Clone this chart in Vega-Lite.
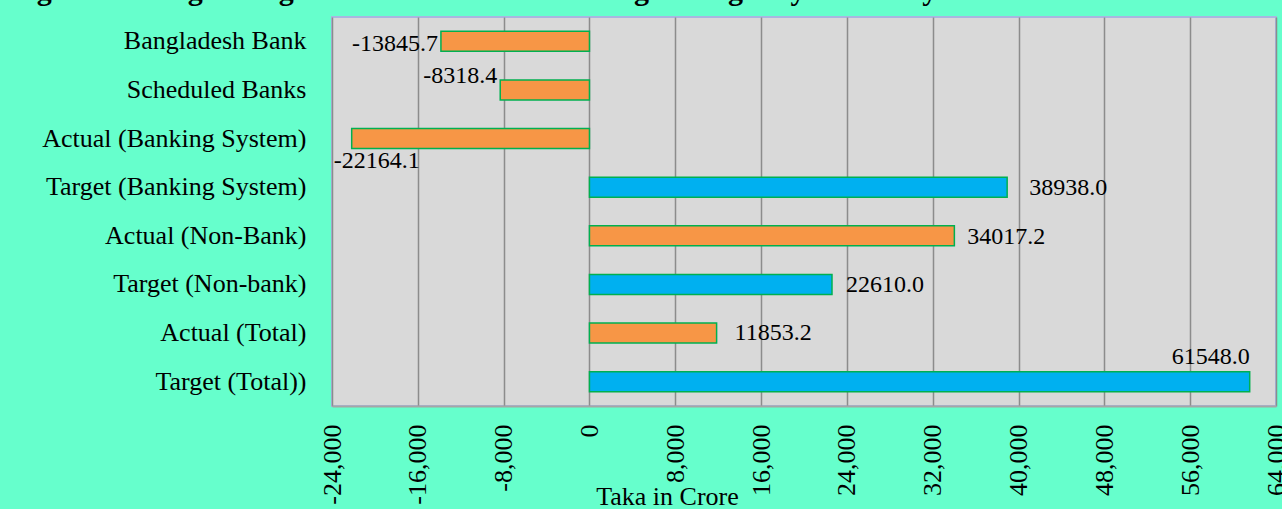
{
  "$schema": "https://vega.github.io/schema/vega-lite/v6.json",
  "width": 944,
  "height": 389,
  "autosize": {"type": "none"},
  "padding": {"left": 332, "top": 17, "right": 6, "bottom": 103},
  "background": "#66FFCC",
  "title": {
    "text": "Figure 4: Budget Target and Net Govt. Borrowing during July-February",
    "anchor": "start",
    "frame": "group",
    "dx": -322,
    "offset": -13,
    "baseline": "alphabetic",
    "font": "Liberation Serif",
    "fontSize": 30,
    "fontWeight": "bold",
    "color": "#000000"
  },
  "data": {
    "values": [
      {"category": "Bangladesh Bank", "value": -13845.7, "label": "-13845.7", "kind": "Actual"},
      {"category": "Scheduled Banks", "value": -8318.4, "label": "-8318.4", "kind": "Actual"},
      {"category": "Actual (Banking System)", "value": -22164.1, "label": "-22164.1", "kind": "Actual"},
      {"category": "Target (Banking System)", "value": 38938.0, "label": "38938.0", "kind": "Target"},
      {"category": "Actual (Non-Bank)", "value": 34017.2, "label": "34017.2", "kind": "Actual"},
      {"category": "Target (Non-bank)", "value": 22610.0, "label": "22610.0", "kind": "Target"},
      {"category": "Actual (Total)", "value": 11853.2, "label": "11853.2", "kind": "Actual"},
      {"category": "Target (Total))", "value": 61548.0, "label": "61548.0", "kind": "Target"}
    ]
  },
  "encoding": {
    "y": {
      "field": "category",
      "type": "nominal",
      "sort": null,
      "scale": {"paddingInner": 0.59, "paddingOuter": 0.295},
      "axis": {
        "title": null,
        "ticks": false,
        "domain": false,
        "labelFont": "Liberation Serif",
        "labelFontSize": 26,
        "labelColor": "#000000",
        "labelPadding": 26,
        "labelLimit": 400
      }
    },
    "x": {
      "field": "value",
      "type": "quantitative",
      "scale": {"domain": [-24000, 64000], "nice": false, "zero": false},
      "axis": {
        "values": [-24000, -16000, -8000, 0, 8000, 16000, 24000, 32000, 40000, 48000, 56000, 64000],
        "format": ",.0f",
        "labelExpr": "replace(datum.label, '\u2212', '-')",
        "labelAngle": -90,
        "labelFont": "Liberation Serif",
        "labelFontSize": 26,
        "labelColor": "#000000",
        "labelPadding": 18,
        "ticks": false,
        "domain": true,
        "domainColor": "#A6A6A6",
        "domainWidth": 2,
        "grid": true,
        "gridColor": "#8C8C8C",
        "gridWidth": 1.5,
        "title": "Taka in Crore",
        "titleFont": "Liberation Serif",
        "titleFontSize": 26,
        "titleFontWeight": "normal",
        "titleColor": "#000000",
        "titleAnchor": "middle",
        "titleAlign": "center",
        "titleBaseline": "alphabetic",
        "titleX": 335,
        "titleY": 98
      }
    }
  },
  "layer": [
    {
      "mark": {"type": "bar", "stroke": "#00B050", "strokeWidth": 1.5},
      "encoding": {
        "color": {
          "field": "kind",
          "type": "nominal",
          "scale": {"domain": ["Actual", "Target"], "range": ["#F79646", "#00B0F0"]},
          "legend": null
        }
      }
    },
    {
      "transform": [{"filter": "datum.category == 'Bangladesh Bank'"}],
      "mark": {"type": "text", "align": "right", "baseline": "middle", "dx": -3, "dy": 3, "font": "Liberation Serif", "fontSize": 24, "color": "#000000"},
      "encoding": {"text": {"field": "label"}}
    },
    {
      "transform": [{"filter": "datum.category == 'Scheduled Banks'"}],
      "mark": {"type": "text", "align": "right", "baseline": "middle", "dx": -3, "dy": -14, "font": "Liberation Serif", "fontSize": 24, "color": "#000000"},
      "encoding": {"text": {"field": "label"}}
    },
    {
      "transform": [{"filter": "datum.category == 'Actual (Banking System)'"}],
      "mark": {"type": "text", "align": "left", "baseline": "middle", "dx": -18, "dy": 22, "font": "Liberation Serif", "fontSize": 24, "color": "#000000"},
      "encoding": {"text": {"field": "label"}}
    },
    {
      "transform": [{"filter": "datum.category == 'Target (Banking System)'"}],
      "mark": {"type": "text", "align": "left", "baseline": "middle", "dx": 22, "dy": 1, "font": "Liberation Serif", "fontSize": 24, "color": "#000000"},
      "encoding": {"text": {"field": "label"}}
    },
    {
      "transform": [{"filter": "datum.category == 'Actual (Non-Bank)'"}],
      "mark": {"type": "text", "align": "left", "baseline": "middle", "dx": 13, "dy": 1, "font": "Liberation Serif", "fontSize": 24, "color": "#000000"},
      "encoding": {"text": {"field": "label"}}
    },
    {
      "transform": [{"filter": "datum.category == 'Target (Non-bank)'"}],
      "mark": {"type": "text", "align": "left", "baseline": "middle", "dx": 14, "dy": 1, "font": "Liberation Serif", "fontSize": 24, "color": "#000000"},
      "encoding": {"text": {"field": "label"}}
    },
    {
      "transform": [{"filter": "datum.category == 'Actual (Total)'"}],
      "mark": {"type": "text", "align": "left", "baseline": "middle", "dx": 18, "dy": 0, "font": "Liberation Serif", "fontSize": 24, "color": "#000000"},
      "encoding": {"text": {"field": "label"}}
    },
    {
      "transform": [{"filter": "datum.category == 'Target (Total))'"}],
      "mark": {"type": "text", "align": "right", "baseline": "middle", "dx": 0, "dy": -25, "font": "Liberation Serif", "fontSize": 24, "color": "#000000"},
      "encoding": {"text": {"field": "label"}}
    }
  ],
  "config": {
    "view": {"fill": "#D9D9D9", "stroke": "#A9B6E0", "strokeWidth": 2}
  }
}
